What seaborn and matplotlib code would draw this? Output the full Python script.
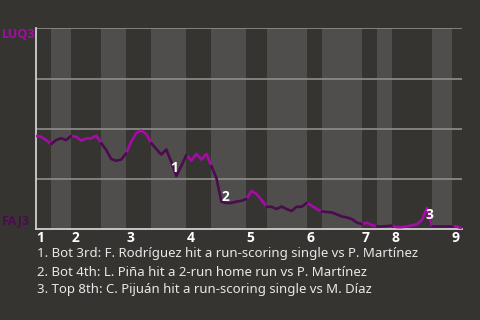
import matplotlib
matplotlib.use("Agg")
import matplotlib.pyplot as plt
import seaborn as sns
import pandas as pd
import numpy as np

# Win probability (%) for LUQ3 after each play
win_prob = [46.4, 46.1, 44.4, 42.4, 44.4, 45.3, 44.4, 46.4, 46.1, 44.1,
            45.2, 45.2, 46.6, 42.9, 39.5, 35.0, 34.1, 34.7, 37.8, 43.6,
            47.9, 49.1, 47.4, 42.9, 39.9, 37.2, 39.7, 33.5, 26.5, 31.5,
            37.0, 34.2, 37.5, 34.7, 37.5, 31.5, 25.5, 13.7, 13.1, 13.1,
            13.8, 14.2, 15.1, 19.1, 17.6, 14.6, 11.2, 11.2, 10.1, 11.3,
            10.1, 9.1, 11.2, 11.2, 13.1, 11.8, 10.1, 8.9, 8.6, 8.4,
            7.4, 6.4, 5.9, 5.1, 3.4, 2.6, 3.2, 2.1, 1.4, 1.4,
            1.6, 1.8, 1.1, 1.1, 1.4, 2.0, 2.5, 4.6, 10.6, 1.6,
            1.6, 1.6, 1.6, 1.6, 1.4, 0.4]

# play index where each half-inning starts (T1, B1, T2, ..., T9) and final play
half_starts = [0, 3, 7, 13, 18, 23, 30, 35, 42, 46, 54, 57, 65, 68, 71, 79, 83, 85]
innings = ["1", "2", "3", "4", "5", "6", "7", "8", "9"]

away_team = "LUQ3"
home_team = "FAJ3"

events_play = [28, 37, 78]
events_label = ["1", "2", "3"]
events_text = [
    "1. Bot 3rd: F. Rodríguez hit a run-scoring single vs P. Martínez",
    "2. Bot 4th: L. Piña hit a 2-run home run vs P. Martínez",
    "3. Top 8th: C. Pijuán hit a run-scoring single vs M. Díaz",
]

BG = "#363431"
BAND = "#4f4e4c"
AWAY_C = "#a70aa9"
HOME_C = "#4b0c4d"
BOLD_FAM = ['Open Sans', 'DejaVu Sans']

rows = []
for k in range(len(half_starts) - 1):
    a, b = half_starts[k], half_starts[k + 1]
    side = "top" if k % 2 == 0 else "bot"
    for i in range(a, b + 1):
        rows.append({"play": i, "wp": win_prob[i], "side": side, "seg": k})
df = pd.DataFrame(rows)

sns.set_theme(style="dark")
plt.rcParams['font.family'] = ['Noto Sans', 'DejaVu Sans']

fig = plt.figure(figsize=(4.8, 3.2), dpi=100, facecolor=BG)
ax = fig.add_axes([36 / 480, 1 - 229.3 / 320, 426 / 480, 201 / 320])
ax.set_facecolor(BG)

for k in range(1, len(half_starts) - 1, 2):
    ax.axvspan(half_starts[k], half_starts[k + 1], color=BAND, lw=0, zorder=0)

for g in [25, 50, 75, 100]:
    ax.axhline(g, color="#8e8d8b", lw=1.2, zorder=1)

sns.lineplot(data=df, x="play", y="wp", hue="side", units="seg", estimator=None,
             palette={"top": AWAY_C, "bot": HOME_C}, legend=False, lw=1.9,
             ax=ax, zorder=3)

ax.set_xlim(0, len(win_prob) - 1)
ax.set_ylim(0, 100)
ax.set_xlabel("")
ax.set_ylabel("")
ax.set_yticks([])
tops = half_starts[0:-1:2]
ax.set_xticks(tops)
ax.set_xticklabels(innings)
ax.tick_params(axis="x", length=0, pad=1.5, labelsize=10, labelcolor="white")
for lab in ax.get_xticklabels():
    lab.set_fontweight("bold")
    lab.set_family(BOLD_FAM)
    lab.set_horizontalalignment("left")
ax.grid(False)
for s in ["top", "right"]:
    ax.spines[s].set_visible(False)
for s in ["left", "bottom"]:
    ax.spines[s].set_color("#d0d0d0")
    ax.spines[s].set_linewidth(1.3)

offsets = [(-2, 8), (4, 5), (3, -7)]
for p, lab, off in zip(events_play, events_label, offsets):
    ax.annotate(lab, (p, win_prob[p]), xytext=(off[0] * 0.72, off[1] * 0.72),
                textcoords="offset points", ha="center", va="center",
                color="white", fontweight="bold", fontsize=10, family=BOLD_FAM,
                zorder=5)

fig.text(2 / 480, 1 - 35 / 320, away_team, color=AWAY_C, fontweight="bold",
         fontsize=9, ha="left", va="center", family=BOLD_FAM)
fig.text(2 / 480, 1 - 221 / 320, home_team, color=HOME_C, fontweight="bold",
         fontsize=9, ha="left", va="center", family=BOLD_FAM)

for j, t in enumerate(events_text):
    fig.text(37 / 480, 1 - (254 + 18 * j) / 320, t, color="#e8e8e8",
             fontsize=9.5, ha="left", va="center")

fig.savefig("out.png", dpi=100, facecolor=BG)
